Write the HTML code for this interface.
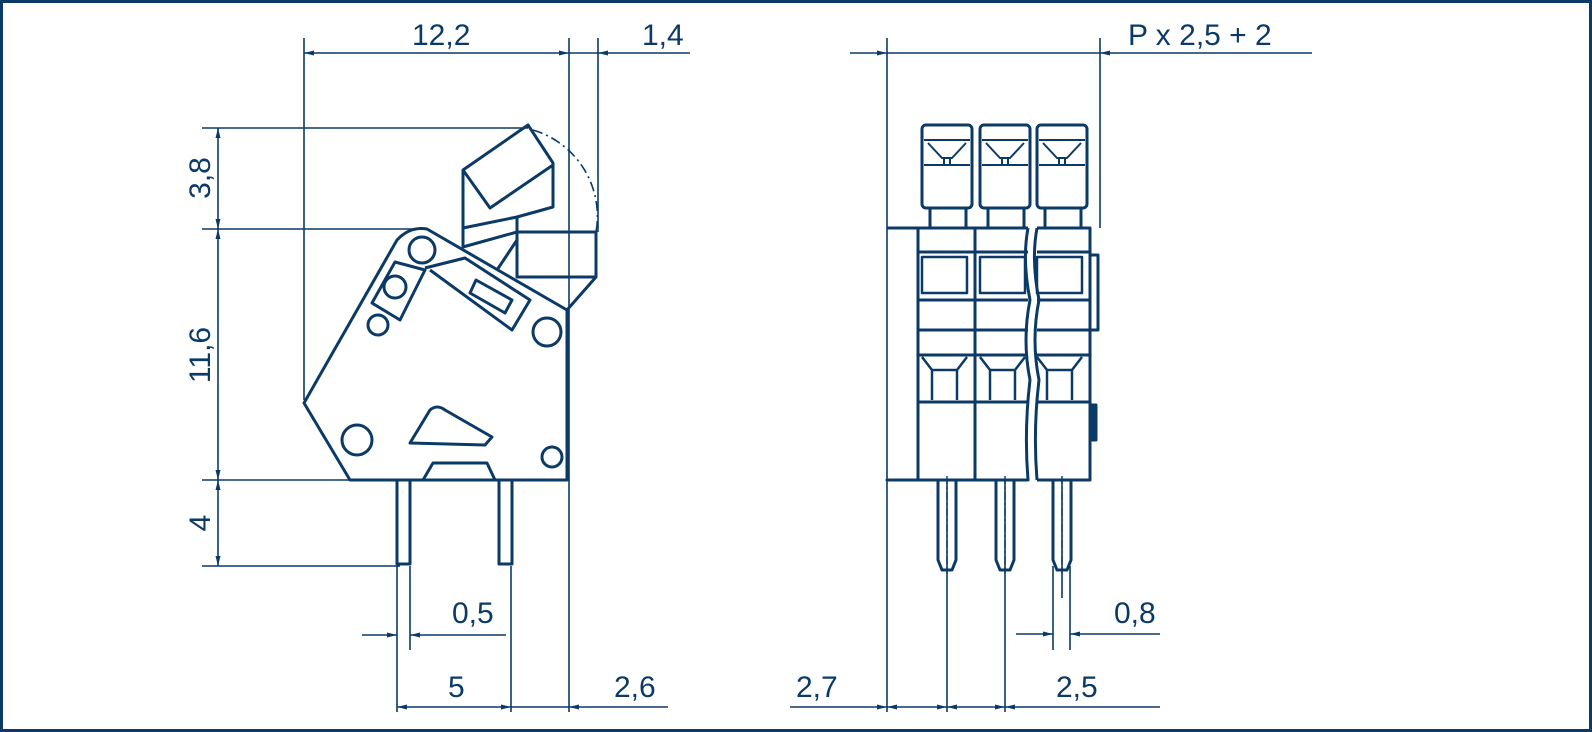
<!DOCTYPE html>
<html><head><meta charset="utf-8"><style>
html,body{margin:0;padding:0;background:#fff}
svg{display:block}
text{font-family:"Liberation Sans",sans-serif;fill:#0b3a66;font-size:30px}
</style></head><body>
<svg width="1592" height="732" viewBox="0 0 1592 732" xmlns="http://www.w3.org/2000/svg">
<defs>
<marker id="a" viewBox="0 0 10 6" refX="10" refY="3" markerWidth="14" markerHeight="6" markerUnits="userSpaceOnUse" orient="auto-start-reverse"><path d="M0,0.5 L10,3 L0,5.5 Z" fill="#0b3a66"/></marker>
</defs>
<rect x="1.5" y="1.5" width="1589" height="729" fill="#fff" stroke="#0b3a66" stroke-width="3"/>
<g stroke="#0b3a66" fill="none" stroke-width="1.6">
<!-- left extension lines -->
<line x1="304" y1="38" x2="304" y2="400"/>
<line x1="569" y1="38" x2="569" y2="480"/>
<line x1="598" y1="38" x2="598" y2="232"/>
<line x1="202" y1="128" x2="528" y2="128"/>
<line x1="202" y1="229" x2="420" y2="229"/>
<line x1="202" y1="480" x2="569" y2="480"/>
<line x1="202" y1="566" x2="400" y2="566"/>
<!-- top dim -->
<line x1="304" y1="53" x2="569" y2="53" marker-start="url(#a)" marker-end="url(#a)"/>
<line x1="569" y1="53" x2="598" y2="53"/>
<line x1="598" y1="53" x2="690" y2="53" marker-start="url(#a)"/>
<!-- left vertical dim -->
<line x1="218" y1="128" x2="218" y2="229" marker-start="url(#a)" marker-end="url(#a)"/>
<line x1="218" y1="229" x2="218" y2="480" marker-start="url(#a)" marker-end="url(#a)"/>
<line x1="218" y1="480" x2="218" y2="566" marker-start="url(#a)" marker-end="url(#a)"/>
<!-- bottom dims left -->
<line x1="397" y1="566" x2="397" y2="712"/>
<line x1="410" y1="566" x2="410" y2="650"/>
<line x1="511" y1="566" x2="511" y2="712"/>
<line x1="569" y1="480" x2="569" y2="712"/>
<line x1="362" y1="635" x2="397" y2="635" marker-end="url(#a)"/>
<line x1="410" y1="635" x2="506" y2="635" marker-start="url(#a)"/>
<line x1="397" y1="707" x2="511" y2="707" marker-start="url(#a)" marker-end="url(#a)"/>
<line x1="511" y1="707" x2="569" y2="707"/>
<line x1="569" y1="707" x2="668" y2="707" marker-start="url(#a)"/>
</g>
<g stroke="#0b3a66" fill="none" stroke-width="3" stroke-linejoin="round">
<!-- body -->
<path d="M304,403 L397,240 Q410,226 427,229 L567,310 L567,480 L350,480 Z"/>
<!-- lever -->
<path d="M463,170 L528,125 L553,163 L553,207 L517,217 L517,232 L463,247 Z"/>
<path d="M463,170 L490,208 L553,165"/>
<path d="M463,228 L517,217"/>
<path d="M517,232 L596,232 L596,277 L517,277 Z"/>
<path d="M596,277 L567,310"/>
<path d="M517,240 L497,270"/>
<!-- arm details -->
<path d="M395,262 L372,303 L400,320 L425,270 Z"/>
<path d="M425,268 L465,258 L530,300 L512,330 L430,270"/>
<path d="M476,280 L512,300 L505,313 L470,293 Z"/>
<circle cx="422" cy="250" r="13"/>
<circle cx="395" cy="287" r="11"/>
<circle cx="378" cy="325" r="10"/>
<circle cx="547" cy="332" r="14"/>
<circle cx="357" cy="440" r="15"/>
<circle cx="552" cy="457" r="10"/>
<path d="M410,443 L430,410 Q437,404 445,410 L492,437 L485,445 Z"/>
<path d="M423,480 L433,463 L487,463 L495,480"/>
<!-- pins left -->
<rect x="397" y="480" width="13" height="84"/>
<rect x="499" y="480" width="13" height="84"/>
</g>
<path d="M533,130 A90,90 0 0 1 596,232" stroke="#0b3a66" fill="none" stroke-width="1.6" stroke-dasharray="10,4,2,4"/>
<!-- right view -->
<g stroke="#0b3a66" fill="none" stroke-width="1.6">
<line x1="887" y1="38" x2="887" y2="712"/>
<line x1="1100" y1="38" x2="1100" y2="228"/>
<line x1="850" y1="53" x2="887" y2="53" marker-end="url(#a)"/>
<line x1="887" y1="53" x2="1100" y2="53"/>
<line x1="1100" y1="53" x2="1312" y2="53" marker-start="url(#a)"/>
<line x1="947" y1="480" x2="947" y2="712"/>
<line x1="1005" y1="480" x2="1005" y2="712"/>
<line x1="1062" y1="480" x2="1062" y2="598"/>
<line x1="1053" y1="566" x2="1053" y2="650"/>
<line x1="1070" y1="566" x2="1070" y2="650"/>
<line x1="1016" y1="634" x2="1053" y2="634" marker-end="url(#a)"/>
<line x1="1070" y1="634" x2="1160" y2="634" marker-start="url(#a)"/>
<line x1="790" y1="707" x2="887" y2="707" marker-end="url(#a)"/>
<line x1="887" y1="707" x2="947" y2="707" marker-start="url(#a)" marker-end="url(#a)"/>
<line x1="947" y1="707" x2="1005" y2="707" marker-start="url(#a)" marker-end="url(#a)"/>
<line x1="1005" y1="707" x2="1160" y2="707" marker-start="url(#a)"/>
</g>
<g stroke="#0b3a66" fill="none" stroke-width="3" stroke-linejoin="round">
<path d="M887,228 L1028,228 M1037,228 L1090,228 L1090,480 L1037,480 M1028,480 L887,480 Z"/>
<path d="M1028,228 Q1022,260 1030,300 Q1022,340 1030,380 Q1024,430 1028,480"/>
<path d="M1037,228 Q1031,260 1039,300 Q1031,340 1039,380 Q1033,430 1037,480"/>
<line x1="918" y1="228" x2="918" y2="480"/>
<line x1="975" y1="228" x2="975" y2="480"/>
<line x1="918" y1="252" x2="1028" y2="252"/><line x1="1037" y1="252" x2="1090" y2="252"/>
<line x1="918" y1="300" x2="1028" y2="300"/><line x1="1037" y1="300" x2="1090" y2="300"/>
<line x1="918" y1="330" x2="1028" y2="330"/><line x1="1037" y1="330" x2="1090" y2="330"/>
<line x1="918" y1="355" x2="1028" y2="355"/><line x1="1037" y1="355" x2="1090" y2="355"/>
<line x1="918" y1="402" x2="1028" y2="402"/><line x1="1037" y1="402" x2="1090" y2="402"/>
<g id="cell">
<rect x="922" y="257" width="45" height="36" stroke-width="2.5"/>
<path d="M922,357 L932,370 L957,370 L967,357 M932,370 L932,400 M957,370 L957,400" stroke-width="2.5"/>
<rect x="922" y="125" width="50" height="83" rx="4"/>
<path d="M924,140 L970,140 M924,165 L970,165 M928,143 L942,158 L952,158 L966,143 M944,158 L944,165 M950,158 L950,165" stroke-width="2"/>
<path d="M930,208 L930,228 M966,208 L966,228"/>
</g>
<use href="#cell" x="58"/>
<use href="#cell" x="115"/>
<path d="M1090,255 L1098,255 L1098,330 L1090,330" />
<path d="M1090,405 L1096,405 L1096,440 L1090,440" fill="#0b3a66"/>
<!-- pins -->
<g id="pin"><path d="M938,480 L938,560 L942,570 L952,570 L956,560 L956,480"/></g>
<use href="#pin" x="58"/>
<use href="#pin" x="115"/>
</g>
<g stroke="#0b3a66" stroke-width="1.4" stroke-dasharray="8,3,2,3">
<line x1="947" y1="476" x2="947" y2="574"/>
<line x1="1005" y1="476" x2="1005" y2="574"/>
<line x1="1062" y1="476" x2="1062" y2="574"/>
</g>
<!-- texts -->
<text x="412" y="45">12,2</text>
<text x="642" y="45">1,4</text>
<text x="1128" y="45">P x 2,5 + 2</text>
<text transform="translate(210,178) rotate(-90)" text-anchor="middle">3,8</text>
<text transform="translate(210,355) rotate(-90)" text-anchor="middle">11,6</text>
<text transform="translate(210,523) rotate(-90)" text-anchor="middle">4</text>
<text x="452" y="623">0,5</text>
<text x="448" y="697">5</text>
<text x="614" y="697">2,6</text>
<text x="1114" y="623">0,8</text>
<text x="796" y="697">2,7</text>
<text x="1056" y="697">2,5</text>
</svg>
</body></html>
